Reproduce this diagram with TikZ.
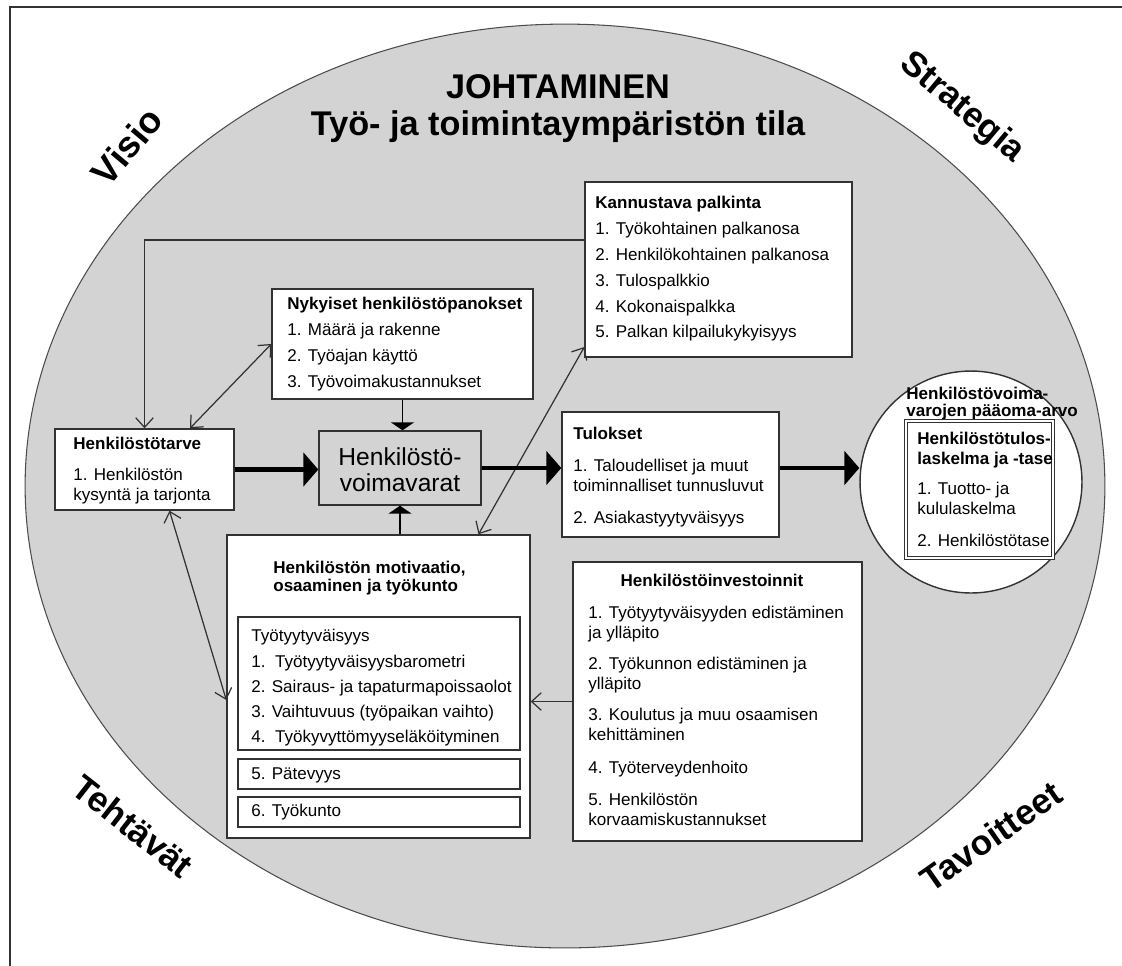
\documentclass[tikz,border=0pt]{standalone}
\usepackage{fontspec}
\setmainfont{Liberation Sans}
\usetikzlibrary{arrows.meta,fit,shapes.geometric}
\definecolor{bggray}{RGB}{211,211,211}
\definecolor{linegray}{RGB}{50,50,50}
\newcommand{\bodyfont}{\fontsize{9.7pt}{11.3pt}\selectfont}

\begin{document}
\begin{tikzpicture}[x=0.02cm,y=-0.02cm]
  \tikzset{box/.style = {draw=linegray, line width=0.8pt, fill=white, inner sep=0pt}}
  \tikzset{txt/.style = {anchor=north west, align=left, inner sep=0pt, font=\bodyfont}}
  \tikzset{corner/.style = {font=\fontsize{20pt}{20pt}\selectfont\bfseries}}
  \tikzset{link/.style = {draw=linegray, line width=0.7pt, -{Straight Barb[length=5.5pt,width=10pt]}}}
  \tikzset{twolink/.style = {draw=linegray, line width=0.7pt, {Straight Barb[length=5.5pt,width=10pt]}-{Straight Barb[length=5.5pt,width=10pt]}}}
  \tikzset{flow/.style = {line width=2.8pt, -{Triangle[length=8.5pt,width=19pt]}}}
  \tikzset{feed/.style = {line width=0.8pt, -{Triangle[length=4.5pt,width=13pt]}}}

\useasboundingbox (0,0) rectangle (1122,965);
\draw[linegray, line width=1.1pt] (10,990) -- (10,7) -- (1140,7);

\node[ellipse, draw=black!70, line width=0.6pt, fill=bggray, minimum width=21.6cm, minimum height=18.48cm, inner sep=0pt] (johto) at (565,486) {};

\node[font=\fontsize{19.5pt}{21pt}\selectfont\bfseries, align=center] (otsikko) at (558,109) {JOHTAMINEN\\Työ- ja toimintaympäristön tila};

\node[corner, font=\fontsize{21pt}{21pt}\selectfont\bfseries, rotate=50] (visio) at (127,146) {Visio};
\node[corner, rotate=-40] (strategia) at (962,108) {Strategia};
\node[corner, rotate=-38] (tehtavat) at (133,826) {Tehtävät};
\node[corner, rotate=35] (tavoitteet) at (991,836) {Tavoitteet};

% laatikot
\node[box, fit={(585,182) (852,357)}] (kann) {};
\node[txt] (kanntxt) at (595,196) {\textbf{Kannustava palkinta}\\[3.4pt]1. Työkohtainen palkanosa\\[3.4pt]2. Henkilökohtainen palkanosa\\[3.4pt]3. Tulospalkkio\\[3.4pt]4. Kokonaispalkka\\[3.4pt]5. Palkan kilpailukykyisyys};

\node[box, fit={(272,289) (533,399)}] (nyky) {};
\node[txt] (nykytxt) at (287,297) {\textbf{Nykyiset henkilöstöpanokset}\\[3.4pt]1. Määrä ja rakenne\\[3.4pt]2. Työajan käyttö\\[3.4pt]3. Työvoimakustannukset};

\node[box, fill=bggray, fit={(319,431) (481,505)}] (voim) {};
\node[font=\fontsize{14pt}{14.7pt}\selectfont, align=center, inner sep=0pt] (voimtxt) at (400,470) {Henkilöstö-\\voimavarat};

\node[box, fit={(55,429) (234,510)}] (tarve) {};
\node[txt] (tarvetxt) at (73,437) {\textbf{Henkilöstötarve}\\[6.2pt]1. Henkilöstön\\kysyntä ja tarjonta};

\node[box, fit={(562,412) (779,537)}] (tul) {};
\node[txt] (tultxt) at (573,427) {\textbf{Tulokset}\\[6.8pt]1. Taloudelliset ja muut\\toiminnalliset tunnusluvut\\[6.8pt]2. Asiakastyytyväisyys};

\node[circle, draw=black!80, line width=0.8pt, fill=white, minimum size=4.44cm, inner sep=0pt] (arvo) at (971,482) {};
\node[txt, font=\fontsize{9.7pt}{9.5pt}\selectfont\bfseries] (arvotxt) at (906,387) {Henkilöstövoima-\\varojen pääoma-arvo};
\node[box, double, double distance=0.8pt, line width=0.5pt, fit={(906,421) (1053,558)}] (tase) {};
\node[txt] (tasetxt) at (917,432) {\textbf{Henkilöstötulos-}\\\textbf{laskelma ja -tase}\\[6pt]1. Tuotto- ja\\kululaskelma\\[6.5pt]2. Henkilöstötase};

\node[box, fit={(573,562) (862,841)}] (invest) {};
\node[font=\bodyfont\bfseries] (investtit) at (712,580) {Henkilöstöinvestoinnit};
\node[txt] (investtxt) at (588,606) {1. Työtyytyväisyyden edistäminen\\ja ylläpito\\[6.2pt]2. Työkunnon edistäminen ja\\ylläpito\\[6.8pt]3. Koulutus ja muu osaamisen\\kehittäminen\\[7.3pt]4. Työterveydenhoito\\[6.8pt]5. Henkilöstön\\korvaamiskustannukset};

\node[box, fit={(227,535) (530,838)}] (motiv) {};
\node[txt, font=\fontsize{9.7pt}{10.2pt}\selectfont\bfseries] (motivtit) at (273,561) {Henkilöstön motivaatio,\\osaaminen ja työkunto};
\node[box, fit={(238,617) (520,750)}] (tyyt) {};
\node[txt] (tyyttxt) at (251,629) {Työtyytyväisyys\\[3.1pt]1.\ \ Työtyytyväisyysbarometri\\[3.1pt]2. Sairaus- ja tapaturmapoissaolot\\[3.1pt]3. Vaihtuvuus (työpaikan vaihto)\\[3.1pt]4.\ \ Työkyvyttömyyseläköityminen};
\node[box, fit={(238,759) (520,789)}] (pat) {};
\node[anchor=west, inner sep=0pt, font=\bodyfont] (pattxt) at (251,775) {5. Pätevyys};
\node[box, fit={(238,797) (520,827)}] (tyok) {};
\node[anchor=west, inner sep=0pt, font=\bodyfont] (tyoktxt) at (251,812) {6. Työkunto};

% nuolet
\draw[link] ([yshift=0.59cm]kann.west) -| (tarve.north);
\draw[twolink] ([xshift=0.91cm]tarve.north) -- (nyky.west);
\draw[twolink] ([xshift=0.5cm]tarve.south) -- ([yshift=-0.27cm]motiv.west);
\draw[twolink] ([xshift=2cm]motiv.north) -- ([yshift=-1.55cm]kann.west);
\draw[link] (invest.west) -- (invest.west -| motiv.east);
\draw[feed] (nyky.south) -- (nyky.south |- voim.north);
\draw[feed] (voim.south |- motiv.north) -- (voim.south);
\draw[flow] (tarve.east) -- (tarve.east -| voim.west);
\draw[flow] (voim.east) -- (voim.east -| tul.west);
\draw[flow] (voim.east -| tul.east) -- (voim.east -| arvo.west);

\end{tikzpicture}
\end{document}
